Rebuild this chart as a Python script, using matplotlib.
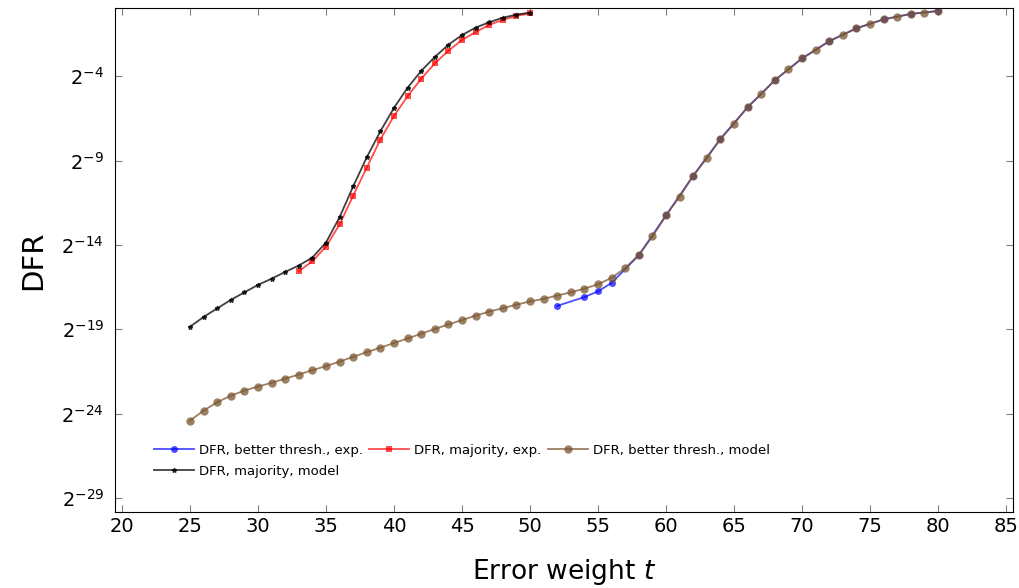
import numpy as np
import matplotlib
matplotlib.use("Agg")
import matplotlib.pyplot as plt

# error weights t for each series
t_thresh_exp = [52, 54, 55, 56, 58, 60, 62, 64, 66, 68, 70, 72, 74, 76, 78, 80]
t_major_exp = list(range(33, 51))
t_thresh_model = list(range(25, 81))
t_major_model = list(range(25, 51))

# DFR values given as log2 exponents (DFR = 2**value)
log2_thresh_exp = [-17.61, -17.09, -16.75, -16.25, -14.61, -12.25, -9.9, -7.72,
                   -5.84, -4.24, -2.95, -1.93, -1.17, -0.64, -0.31, -0.14]
log2_major_exp = [-15.56, -14.97, -14.1, -12.79, -11.08, -9.42, -7.76, -6.36, -5.19,
                  -4.16, -3.25, -2.5, -1.86, -1.39, -0.97, -0.67, -0.44, -0.28]
log2_thresh_model = [-24.41, -23.82, -23.32, -22.93, -22.63, -22.39, -22.17, -21.92,
                     -21.68, -21.42, -21.18, -20.91, -20.63, -20.35, -20.09, -19.81,
                     -19.54, -19.26, -18.98, -18.71, -18.45, -18.19, -17.95, -17.75,
                     -17.54, -17.35, -17.19, -17.0, -16.81, -16.59, -16.33, -15.95,
                     -15.37, -14.59, -13.5, -12.25, -11.14, -9.9, -8.86, -7.72,
                     -6.82, -5.84, -5.07, -4.24, -3.6, -2.95, -2.46, -1.93,
                     -1.55, -1.17, -0.9, -0.64, -0.48, -0.32, -0.24, -0.15]
log2_major_model = [-18.85, -18.27, -17.76, -17.26, -16.81, -16.37, -16.0, -15.6,
                    -15.22, -14.75, -13.86, -12.36, -10.53, -8.81, -7.27, -5.88,
                    -4.69, -3.69, -2.87, -2.14, -1.57, -1.13, -0.81, -0.54, -0.36, -0.24]

ytick_exps = [-29, -24, -19, -14, -9, -4]

fig = plt.figure(figsize=(10.19, 5.88), dpi=100)
ax = fig.add_axes([0.113, 0.129, 0.881, 0.857])

# plot each series on a log2 axis
l1, = ax.plot(t_thresh_exp, 2.0 ** np.array(log2_thresh_exp), color="blue", marker="o",
              markersize=5, mew=0, lw=1.3, alpha=0.7, label="DFR, better thresh., exp.")
l2, = ax.plot(t_major_exp, 2.0 ** np.array(log2_major_exp), color="red", marker="s",
              markersize=5, mew=0, lw=1.3, alpha=0.7, label="DFR, majority, exp.")
l3, = ax.plot(t_thresh_model, 2.0 ** np.array(log2_thresh_model), color="#7a5530", marker="o",
              markersize=6, mew=0, lw=1.3, alpha=0.75, label="DFR, better thresh., model")
l4, = ax.plot(t_major_model, 2.0 ** np.array(log2_major_model), color="black", marker="*",
              markersize=3.5, lw=1.3, alpha=0.75, label="DFR, majority, model")

ax.set_yscale("log", base=2)
ax.set_xlim(19.5, 85.5)
ax.set_ylim(2.0 ** -29.83, 2.0 ** 0.02)
ax.set_xticks(range(20, 86, 5))
ax.set_yticks([2.0 ** e for e in ytick_exps])
ax.set_yticklabels([r"$2^{%d}$" % e for e in ytick_exps])
ax.minorticks_off()
ax.tick_params(direction="in", length=5, color="gray", labelsize=14, top=True, right=True)
ax.tick_params(axis="y", pad=8)

ax.set_xlabel(r"Error weight $t$", fontsize=19, labelpad=15)
ax.set_ylabel("DFR", fontsize=21, labelpad=10)

# order handles so that matplotlib's column-wise fill gives rows like the original
ax.legend([l1, l4, l2, l3], [l1.get_label(), l4.get_label(), l2.get_label(), l3.get_label()],
          ncol=3, loc="lower left", bbox_to_anchor=(0.03, 0.045), frameon=False,
          fontsize=9.5, handlelength=3.0, handletextpad=0.4, columnspacing=0.5,
          labelspacing=0.6)

plt.savefig("out.png", dpi=100)
